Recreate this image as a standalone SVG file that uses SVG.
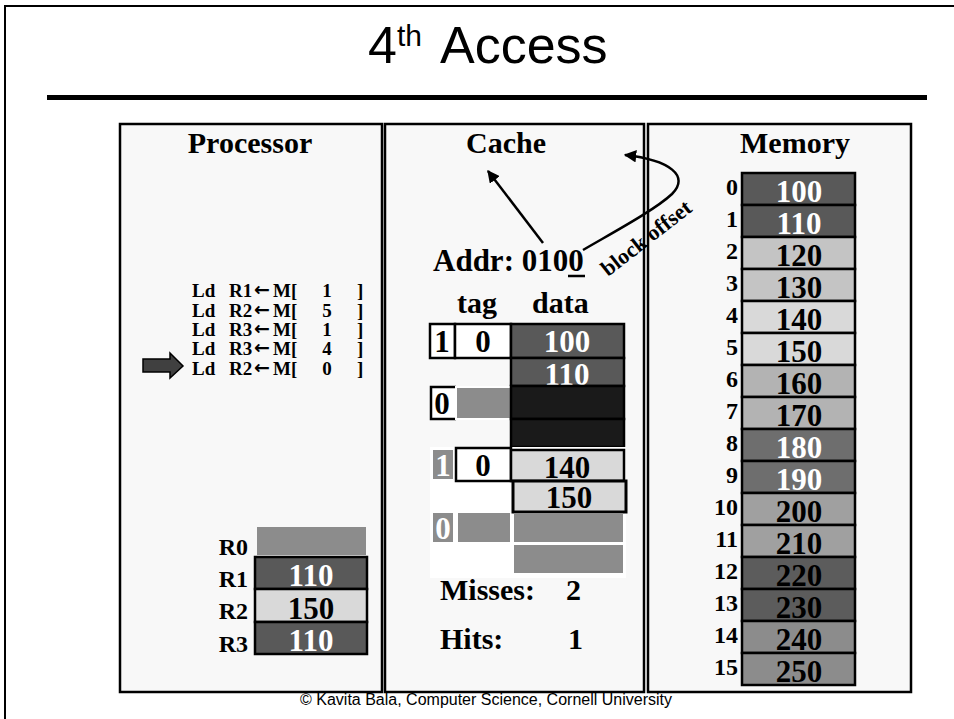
<svg xmlns="http://www.w3.org/2000/svg" width="954" height="719" viewBox="0 0 954 719">
  <style>
    .b { font-family: "Liberation Serif", "Times New Roman", serif; font-weight: bold; fill: #000; }
    .w { fill: #fff; }
    .h { font-size: 30px; text-anchor: middle; }
    .ins { font-size: 19px; }
    .arr { font-family: "DejaVu Sans", sans-serif; font-weight: bold; font-size: 19px; }
    .v { font-size: 31px; text-anchor: middle; }
    .lbl { font-size: 24px; text-anchor: end; }
    .panel { fill: #f8f8f8; stroke: #000; stroke-width: 2.5; }
    .cell { stroke: #000; stroke-width: 2.5; }
    .dk { fill: #595959; }
    .lt { fill: #d9d9d9; }
    .gr { fill: #8c8c8c; }
    .bk { fill: #1a1a1a; }
    .wh { fill: #fff; }
    .conn { fill: none; stroke: #000; stroke-width: 2.5; }
  </style>
  <defs>
    <marker id="ah" viewBox="0 0 10 10" refX="9" refY="5" markerWidth="5" markerHeight="5" orient="auto">
      <path d="M0,0 L10,5 L0,10 Z" fill="#000"/>
    </marker>
  </defs>

  <rect width="954" height="719" fill="#fff"/>
  <!-- slide frame and title -->
  <path d="M5,719 V6 H954" fill="none" stroke="#000" stroke-width="2"/>
  <g id="title" font-family="'Liberation Sans', Arial, sans-serif" fill="#000">
    <text x="368" y="63" font-size="52">4</text>
    <text x="397" y="46" font-size="30">th</text>
    <text x="440" y="63" font-size="52">Access</text>
  </g>
  <rect x="47" y="95" width="880" height="5" fill="#000"/>

  <!-- processor: program and register file -->
  <g id="processor">
    <rect class="panel" x="120" y="124" width="262" height="568"/>
    <text class="b h" x="250" y="153">Processor</text>
    <g class="b ins">
      <text x="192" y="297">Ld</text><text x="229" y="297">R1</text><text class="arr" x="254" y="296">←</text><text x="273" y="297">M[</text><text x="327" y="297" text-anchor="middle">1</text><text x="357" y="297">]</text>
      <text x="192" y="317">Ld</text><text x="229" y="317">R2</text><text class="arr" x="254" y="316">←</text><text x="273" y="317">M[</text><text x="327" y="317" text-anchor="middle">5</text><text x="357" y="317">]</text>
      <text x="192" y="336">Ld</text><text x="229" y="336">R3</text><text class="arr" x="254" y="335">←</text><text x="273" y="336">M[</text><text x="327" y="336" text-anchor="middle">1</text><text x="357" y="336">]</text>
      <text x="192" y="355">Ld</text><text x="229" y="355">R3</text><text class="arr" x="254" y="354">←</text><text x="273" y="355">M[</text><text x="327" y="355" text-anchor="middle">4</text><text x="357" y="355">]</text>
      <text x="192" y="375">Ld</text><text x="229" y="375">R2</text><text class="arr" x="254" y="374">←</text><text x="273" y="375">M[</text><text x="327" y="375" text-anchor="middle">0</text><text x="357" y="375">]</text>
    </g>
    <!-- current instruction pointer -->
    <polygon points="143,359 170,359 170,353 183,366 170,378 170,372 143,372" fill="#404040" stroke="#000" stroke-width="1.5"/>
    <!-- register file -->
    <rect class="gr" x="257" y="527" width="109" height="28"/>
    <rect class="cell dk" x="255" y="557" width="112" height="32"/>
    <rect class="cell lt" x="255" y="589" width="112" height="33"/>
    <rect class="cell dk" x="255" y="622" width="112" height="32"/>
    <text class="b lbl" x="248" y="555">R0</text>
    <text class="b lbl" x="248" y="587">R1</text>
    <text class="b lbl" x="248" y="619">R2</text>
    <text class="b lbl" x="248" y="652">R3</text>
    <text class="b v w" x="311" y="586">110</text>
    <text class="b v" x="311" y="619">150</text>
    <text class="b v w" x="311" y="651">110</text>
  </g>

  <!-- cache: 4 sets, 2-word blocks -->
  <g id="cache">
    <rect class="panel" x="385" y="124" width="259" height="568"/>
    <text class="b h" x="506" y="153">Cache</text>
    <text class="b" x="433" y="271" font-size="31">Addr: 0100</text>
    <line x1="568" y1="276" x2="585" y2="276" stroke="#000" stroke-width="2.5"/>
    <text class="b" x="457" y="313" font-size="30">tag</text>
    <text class="b" x="532" y="313" font-size="30">data</text>
    <!-- set 0 -->
    <rect class="cell wh" x="430" y="324" width="25" height="34"/>
    <rect class="cell wh" x="455" y="324" width="56" height="34"/>
    <rect class="cell dk" x="511" y="324" width="113" height="34"/>
    <text class="b v" x="442" y="352">1</text>
    <text class="b v" x="483" y="352">0</text>
    <text class="b v w" x="567" y="352">100</text>
    <rect class="cell dk" x="511" y="358" width="113" height="28"/>
    <text class="b v w" x="567" y="385">110</text>
    <!-- set 1 -->
    <path d="M456,387 H431 V419 H456" fill="#fff" stroke="#000" stroke-width="2.5"/>
    <rect class="gr" x="456" y="387" width="55" height="32" stroke="#fff" stroke-width="2"/>
    <rect class="cell bk" x="511" y="386" width="113" height="33"/>
    <text class="b v" x="442" y="414">0</text>
    <rect class="cell bk" x="511" y="419" width="113" height="28"/>
    <!-- set 2 -->
    <rect x="430" y="447" width="196" height="131" fill="#fff"/>
    <rect class="gr" x="433" y="450" width="20" height="29"/>
    <text class="b v w" x="443" y="476">1</text>
    <rect class="cell wh" x="456" y="448" width="55" height="33"/>
    <text class="b v" x="483" y="476">0</text>
    <rect class="cell lt" x="511" y="450" width="113" height="31"/>
    <text class="b v" x="567" y="478">140</text>
    <rect class="lt" x="513" y="481" width="113" height="31" stroke="#000" stroke-width="3"/>
    <text class="b v" x="569" y="508">150</text>
    <!-- set 3 -->
    <rect class="gr" x="433" y="513" width="20" height="29"/>
    <text class="b v w" x="443" y="539">0</text>
    <rect class="gr" x="458" y="513" width="52" height="29"/>
    <rect class="gr" x="514" y="513" width="109" height="29"/>
    <rect class="gr" x="514" y="545" width="109" height="28"/>
    <!-- counters -->
    <text class="b" x="440" y="600" font-size="30">Misses:</text>
    <text class="b" x="566" y="600" font-size="30">2</text>
    <text class="b" x="440" y="649" font-size="30">Hits:</text>
    <text class="b" x="568" y="649" font-size="30">1</text>
  </g>

  <!-- memory: 16 words -->
  <g id="memory">
    <rect class="panel" x="648" y="124" width="263" height="568"/>
    <text class="b h" x="795" y="153">Memory</text>
    <g id="mem-cells">
      <rect class="cell dk" x="742" y="173" width="113" height="32"/>
      <rect class="cell dk" x="742" y="205" width="113" height="32"/>
      <rect class="cell" fill="#c4c4c4" x="742" y="237" width="113" height="32"/>
      <rect class="cell" fill="#c4c4c4" x="742" y="269" width="113" height="32"/>
      <rect class="cell lt" x="742" y="301" width="113" height="32"/>
      <rect class="cell lt" x="742" y="333" width="113" height="32"/>
      <rect class="cell" fill="#b3b3b3" x="742" y="365" width="113" height="32"/>
      <rect class="cell" fill="#b3b3b3" x="742" y="397" width="113" height="32"/>
      <rect class="cell" fill="#6e6e6e" x="742" y="429" width="113" height="32"/>
      <rect class="cell" fill="#6e6e6e" x="742" y="461" width="113" height="32"/>
      <rect class="cell" fill="#a0a0a0" x="742" y="493" width="113" height="32"/>
      <rect class="cell" fill="#a0a0a0" x="742" y="525" width="113" height="32"/>
      <rect class="cell" fill="#5c5c5c" x="742" y="557" width="113" height="32"/>
      <rect class="cell" fill="#5c5c5c" x="742" y="589" width="113" height="32"/>
      <rect class="cell gr" x="742" y="621" width="113" height="32"/>
      <rect class="cell gr" x="742" y="653" width="113" height="32"/>
    </g>
    <g class="b v">
      <text class="w" x="799" y="202">100</text>
      <text class="w" x="799" y="234">110</text>
      <text x="799" y="266">120</text>
      <text x="799" y="298">130</text>
      <text x="799" y="330">140</text>
      <text x="799" y="362">150</text>
      <text x="799" y="394">160</text>
      <text x="799" y="426">170</text>
      <text class="w" x="799" y="458">180</text>
      <text class="w" x="799" y="490">190</text>
      <text x="799" y="522">200</text>
      <text x="799" y="554">210</text>
      <text x="799" y="586">220</text>
      <text x="799" y="618">230</text>
      <text x="799" y="650">240</text>
      <text x="799" y="682">250</text>
    </g>
    <g class="b lbl">
      <text x="738" y="195">0</text>
      <text x="738" y="227">1</text>
      <text x="738" y="259">2</text>
      <text x="738" y="291">3</text>
      <text x="738" y="323">4</text>
      <text x="738" y="355">5</text>
      <text x="738" y="387">6</text>
      <text x="738" y="419">7</text>
      <text x="738" y="451">8</text>
      <text x="738" y="483">9</text>
      <text x="738" y="515">10</text>
      <text x="738" y="547">11</text>
      <text x="738" y="579">12</text>
      <text x="738" y="611">13</text>
      <text x="738" y="643">14</text>
      <text x="738" y="675">15</text>
    </g>
  </g>

  <g id="connectors">
    <line class="conn" x1="543" y1="243" x2="488" y2="171" marker-end="url(#ah)"/>
    <path class="conn" d="M583,250 C612,233 655,210 672,194 C690,176 670,160 625,155" marker-end="url(#ah)"/>
    <text class="b" font-size="22" transform="translate(608,277) rotate(-38)">block offset</text>
  </g>

  <text x="486" y="705" font-family="'Liberation Sans', Arial, sans-serif" font-size="16" text-anchor="middle" fill="#000">© Kavita Bala, Computer Science, Cornell University</text>
</svg>
